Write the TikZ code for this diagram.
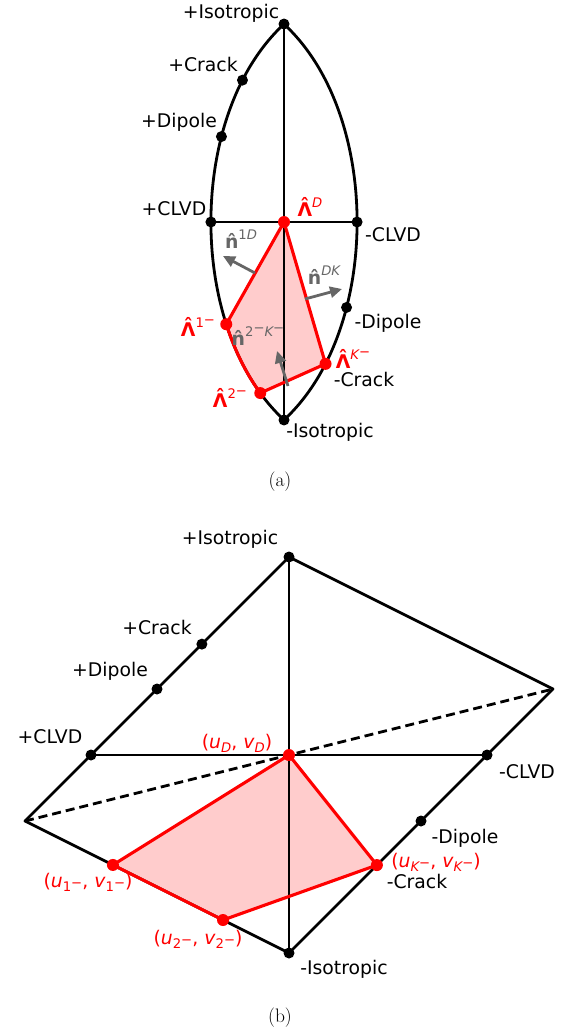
\documentclass[tikz,border=0pt]{standalone}
\usepackage{fontspec}
\newfontfamily\djv{DejaVu Sans}
\usetikzlibrary{arrows.meta,calc}
\definecolor{pinkf}{RGB}{255,204,204}
\definecolor{garr}{RGB}{102,102,102}
\newcommand\sz[1]{\fontsize{#1}{#1}\selectfont}
\newcommand\Sup[1]{\raisebox{0.45em}{\sz{13.2}#1}}
\newcommand\Sub[1]{\raisebox{-0.22em}{\sz{13.2}#1}}
\newcommand\SSup[1]{\raisebox{0.28em}{#1}}
\newcommand\hatL{{\bfseries\accent"02C6 Λ}}
\newcommand\hatn{{\bfseries\accent"02C6 n}}
\tikzset{
  blk/.style={line width=2.8pt, line join=round},
  redl/.style={red, line width=3.1pt, line join=round},
  bdot/.style={circle, fill=black, inner sep=0pt, minimum size=11pt},
  rdot/.style={circle, fill=red, inner sep=0pt, minimum size=12pt},
  lab/.style={inner sep=0pt, font=\djv\sz{18.8}},
  rlab/.style={inner sep=0pt, font=\djv\sz{18.8}, text=red},
  glab/.style={inner sep=0pt, font=\djv\sz{18.8}, text=garr},
  garrow/.style={garr, line width=2.8pt, -{Triangle[length=12pt,width=11pt]}},
  captxt/.style={inner sep=0pt, font=\sz{19.5}},
  declare function={
    hx(\l,\p)=2*sqrt(2)*cos(\p)*sin(\l/2)/sqrt(1+cos(\p)*cos(\l/2));
    hy(\l,\p)=sqrt(2)*sin(\p)/sqrt(1+cos(\p)*cos(\l/2));
  }
}
\begin{document}
\begin{tikzpicture}[x=1pt,y=-1pt]
\useasboundingbox (0,0) rectangle (560,1033);
% ================= panel (a) =================
\coordinate (aC) at (284,222);
\coordinate (aTop) at ({284+140*hx(-30,90)},{222-140*hy(-30,90)});
\coordinate (aBot) at ({284+140*hx(-30,-90)},{222-140*hy(-30,-90)});
\coordinate (aPCrack) at ({284+140*hx(-30,60.5)},{222-140*hy(-30,60.5)});
\coordinate (aPDip) at ({284+140*hx(-30,35.26)},{222-140*hy(-30,35.26)});
\coordinate (aPCLVD) at ({284+140*hx(-30,0)},{222-140*hy(-30,0)});
\coordinate (aMCLVD) at ({284+140*hx(30,0)},{222-140*hy(30,0)});
\coordinate (aMDip) at ({284+140*hx(30,-35.26)},{222-140*hy(30,-35.26)});
\coordinate (aMCrack) at ({284+140*hx(30,-60.5)},{222-140*hy(30,-60.5)});
\coordinate (aL1) at ({284+140*hx(-30,-42.5)},{222-140*hy(-30,-42.5)});
\coordinate (aL2) at ({284+140*hx(-30,-75)},{222-140*hy(-30,-75)});
% fill
\fill[pinkf] (aC) -- (aL1) -- plot[domain=-42.5:-75,samples=20] ({284+140*hx(-30,\x)},{222-140*hy(-30,\x)}) -- (aMCrack) -- cycle;
% outline
\draw[blk] plot[domain=-90:90,samples=91,smooth] ({284+140*hx(-30,\x)},{222-140*hy(-30,\x)});
\draw[blk] plot[domain=-90:90,samples=91,smooth] ({284+140*hx(30,\x)},{222-140*hy(30,\x)});
\draw[blk] (aTop) -- (aBot);
\draw[blk] (aPCLVD) -- (aMCLVD);
% red edges
\draw[redl] (aC) -- (aL1) -- plot[domain=-42.5:-75,samples=20] ({284+140*hx(-30,\x)},{222-140*hy(-30,\x)}) -- (aMCrack) -- cycle;
% dots
\node[bdot] (daTop) at (aTop) {};
\node[bdot] (daBot) at (aBot) {};
\node[bdot] (daPCrack) at (aPCrack) {};
\node[bdot] (daPDip) at (aPDip) {};
\node[bdot] (daPCLVD) at (aPCLVD) {};
\node[bdot] (daMCLVD) at (aMCLVD) {};
\node[bdot] (daMDip) at (aMDip) {};
\node[rdot] (daC) at (aC) {};
\node[rdot] (daL1) at (aL1) {};
\node[rdot] (daL2) at (aL2) {};
\node[rdot] (daK) at (aMCrack) {};
% arrows
\coordinate (n1s) at (255,273); \coordinate (n1e) at (223,256);
\coordinate (n2s) at (305,299); \coordinate (n2e) at (342,289);
\coordinate (n3s) at (288,386); \coordinate (n3e) at (277,351);
\draw[garrow] (n1s) -- (n1e);
\draw[garrow] (n2s) -- (n2e);
\draw[garrow] (n3s) -- (n3e);
% labels
\node[lab] (taTop) at (231,13) {+Isotropic};
\node[lab] (taPCrack) at (203,64) {+Crack};
\node[lab] (taPDip) at (179,122) {+Dipole};
\node[lab] (taPCLVD) at (174,209) {+CLVD};
\node[lab] (taMCLVD) at (393,235) {-CLVD};
\node[lab] (taMDip) at (388,323) {-Dipole};
\node[lab] (taMCrack) at (364,379) {-Crack};
\node[lab] (taBot) at (330,432) {-Isotropic};
\node[rlab] (taLD) at (310,207) {\hatL\Sup{\itshape D}};
\node[rlab] (taL1) at (198,327) {\hatL\Sup{1\SSup{−}}};
\node[rlab] (taL2) at (230,398) {\hatL\Sup{2\SSup{−}}};
\node[rlab] (taLK) at (353,359) {\hatL\Sup{\itshape K\SSup{−}}};
\node[glab] (tn1) at (241,239) {\hatn\Sup{1\itshape D}};
\node[glab] (tn2) at (324,275) {\hatn\Sup{\itshape DK}};
\node[glab] (tn3) at (258,336) {\hatn\Sup{2\SSup{−}\itshape K\SSup{−}}};
\node[captxt] (capa) at (280,482) {(a)};
% ================= panel (b) =================
\coordinate (T) at (289,557);
\coordinate (B) at (289,953);
\coordinate (L) at (25,821);
\coordinate (R) at (553,689);
\coordinate (bC) at (289,755);
\coordinate (bPCrack) at ($(T)!0.33!(L)$);
\coordinate (bPDip) at ($(T)!0.5!(L)$);
\coordinate (bPCLVD) at ($(T)!0.75!(L)$);
\coordinate (bMCLVD) at ($(R)!0.25!(B)$);
\coordinate (bMDip) at ($(R)!0.5!(B)$);
\coordinate (bK) at ($(R)!0.667!(B)$);
\coordinate (b1) at ($(L)!0.333!(B)$);
\coordinate (b2) at ($(L)!0.75!(B)$);
\fill[pinkf] (bC) -- (b1) -- (b2) -- (bK) -- cycle;
\draw[blk] (T) -- (R) -- (B) -- (L) -- cycle;
\draw[blk] (T) -- (B);
\draw[blk] (bPCLVD) -- (bMCLVD);
\draw[blk, dash pattern=on 9pt off 5pt] (L) -- (R);
\draw[redl] (bC) -- (b1) -- (b2) -- (bK) -- cycle;
\node[bdot] (dbT) at (T) {};
\node[bdot] (dbB) at (B) {};
\node[bdot] (dbPCrack) at (bPCrack) {};
\node[bdot] (dbPDip) at (bPDip) {};
\node[bdot] (dbPCLVD) at (bPCLVD) {};
\node[bdot] (dbMCLVD) at (bMCLVD) {};
\node[bdot] (dbMDip) at (bMDip) {};
\node[rdot] (dbC) at (bC) {};
\node[rdot] (db1) at (b1) {};
\node[rdot] (db2) at (b2) {};
\node[rdot] (dbK) at (bK) {};
\node[lab] (tbT) at (230,539) {+Isotropic};
\node[lab] (tbPCrack) at (157,627) {+Crack};
\node[lab] (tbPDip) at (110,671) {+Dipole};
\node[lab] (tbPCLVD) at (50,737) {+CLVD};
\node[lab] (tbMCLVD) at (527,772) {-CLVD};
\node[lab] (tbMDip) at (465,838) {-Dipole};
\node[lab] (tbMCrack) at (417,881) {-Crack};
\node[lab] (tbB) at (344,969) {-Isotropic};
\node[rlab] (tbC) at (237,743) {(\textit{u}\Sub{\itshape D}, \textit{v}\Sub{\itshape D})};
\node[rlab] (tbK) at (436,862) {(\textit{u}\Sub{\itshape K\SSup{−}}, \textit{v}\Sub{\itshape K\SSup{−}})};
\node[rlab] (tb1) at (88,882) {(\textit{u}\Sub{1\SSup{−}}, \textit{v}\Sub{1\SSup{−}})};
\node[rlab] (tb2) at (198,939) {(\textit{u}\Sub{2\SSup{−}}, \textit{v}\Sub{2\SSup{−}})};
\node[captxt] (capb) at (280,1018) {(b)};
\end{tikzpicture}
\end{document}
